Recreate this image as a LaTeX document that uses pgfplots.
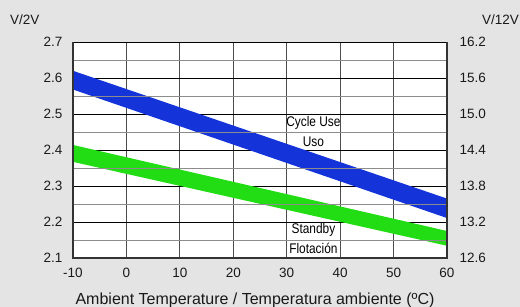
\documentclass[border=0pt]{standalone}
\usepackage{fontspec}
\setmainfont{Liberation Sans}
\usepackage{pgfplots}
\pgfplotsset{compat=1.18}
\definecolor{bg}{RGB}{228,228,228}
\definecolor{bandblue}{RGB}{20,52,218}
\definecolor{bandgreen}{RGB}{34,221,20}
\begin{document}
\begin{tikzpicture}
\path[use as bounding box, fill=bg] (0,0) rectangle (520pt,307pt);
\begin{axis}[
  at={(73pt,49pt)}, anchor=south west,
  scale only axis, width=374pt, height=216pt,
  xmin=-10, xmax=60, ymin=2.1, ymax=2.7,
  axis background/.style={fill=white},
  xtick={-10,0,10,20,30,40,50,60},
  xticklabels={-10,0,10,20,30,40,50,60},
  ytick={2.1,2.2,2.3,2.4,2.5,2.6,2.7},
  yticklabels={2.1,2.2,2.3,2.4,2.5,2.6,2.7},
  major tick length=0pt,
  xmajorgrids, ymajorgrids,
  x grid style={black!70, line width=0.9pt},
  y grid style={black, line width=0.9pt},
  axis line style={draw=none},
  tick label style={font=\fontsize{13.5}{15}\selectfont, text=black!90},
  xticklabel style={anchor=base, yshift=-20pt},
  yticklabel style={anchor=east, xshift=-7pt},
  clip=false,
]
\addplot[fill=bandblue, draw=none] coordinates {(-10,2.620) (60,2.265) (60,2.211) (-10,2.568) (-10,2.620)};
\addplot[fill=bandgreen, draw=none] coordinates {(-10,2.414) (60,2.175) (60,2.134) (-10,2.367) (-10,2.414)};
\addplot[gray!90, line width=0.9pt] coordinates {(-10,2.15) (60,2.15)};
\addplot[gray!90, line width=0.9pt] coordinates {(-10,2.25) (60,2.25)};
\addplot[gray!90, line width=0.9pt] coordinates {(-10,2.35) (60,2.35)};
\addplot[gray!90, line width=0.9pt] coordinates {(-10,2.45) (60,2.45)};
\addplot[gray!90, line width=0.9pt] coordinates {(-10,2.55) (60,2.55)};
\addplot[gray!90, line width=0.9pt] coordinates {(-10,2.65) (60,2.65)};
\draw[black, line width=1pt] (rel axis cs:0,1) -- (rel axis cs:1,1);
\draw[black!80, line width=2pt] (rel axis cs:0,1) -- (rel axis cs:0,0) -- (rel axis cs:1,0) -- (rel axis cs:1,1);
\node[font=\fontsize{14}{16}\selectfont, xscale=0.85, transform shape, inner sep=0pt] at (axis cs:35,2.475) {Cycle Use};
\node[font=\fontsize{14}{16}\selectfont, xscale=0.85, transform shape, inner sep=0pt] at (axis cs:35,2.424) {Uso};
\node[font=\fontsize{14}{16}\selectfont, xscale=0.85, transform shape, inner sep=0pt] at (axis cs:35,2.179) {Standby};
\node[font=\fontsize{14}{16}\selectfont, xscale=0.85, transform shape, inner sep=0pt] at (axis cs:35,2.128) {Flotación};
\end{axis}
\begin{axis}[
  at={(73pt,49pt)}, anchor=south west,
  scale only axis, width=374pt, height=216pt,
  xmin=-10, xmax=60, ymin=12.6, ymax=16.2,
  axis x line=none, axis y line*=right,
  axis line style={draw=none},
  ytick={12.6,13.2,13.8,14.4,15.0,15.6,16.2},
  yticklabels={12.6,13.2,13.8,14.4,15.0,15.6,16.2},
  major tick length=0pt,
  tick label style={font=\fontsize{13.5}{15}\selectfont, text=black!90},
  yticklabel style={anchor=west, xshift=9pt},
]
\addplot[draw=none] coordinates {(0,13) (10,14)};
\end{axis}
\node[anchor=base west, font=\fontsize{13.5}{15}\selectfont, text=black!90, inner sep=0pt] at (10pt,282pt) {V/2V};
\node[anchor=base east, font=\fontsize{13.5}{15}\selectfont, text=black!90, inner sep=0pt] at (519pt,282pt) {V/12V};
\node[anchor=base, font=\fontsize{16}{18}\selectfont, text=black!90, inner sep=0pt] at (255pt,2pt) {Ambient Temperature / Temperatura ambiente (ºC)};
\end{tikzpicture}
\end{document}
